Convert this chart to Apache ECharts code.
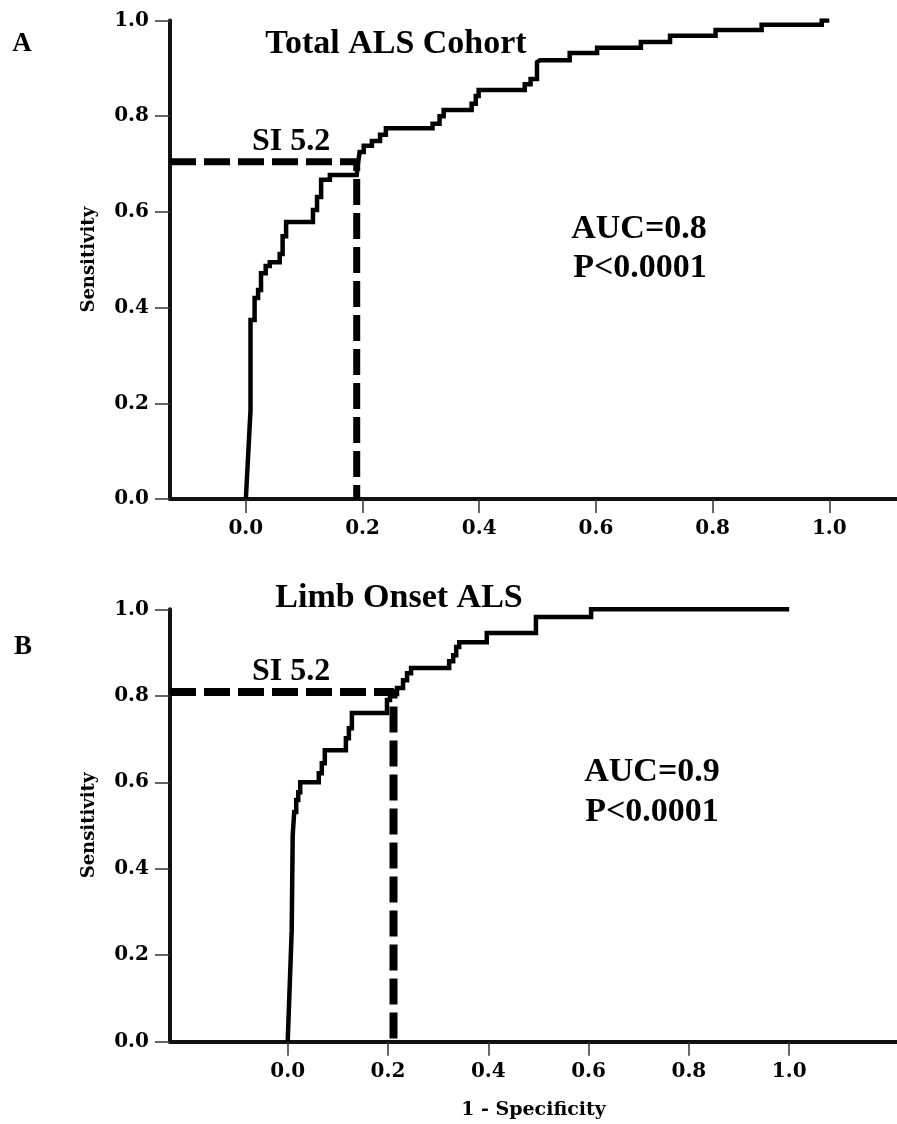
<!DOCTYPE html>
<html>
<head>
<meta charset="utf-8">
<script src="https://cdn.jsdelivr.net/npm/echarts@6/dist/echarts.min.js"></script>
<style>
  html, body { margin: 0; background: #fff; }
  #main { width: 897px; height: 1124px; }
</style>
</head>
<body>
<div id="main"></div>
<script>
// ROC curve points [1 - specificity, sensitivity]
var totalCurve = [[0,0],[0.008,0.186],[0.008,0.374],[0.015,0.374],[0.015,0.420],[0.021,0.420],[0.021,0.437],
  [0.026,0.437],[0.026,0.472],[0.034,0.472],[0.034,0.487],[0.041,0.487],[0.041,0.495],[0.058,0.495],
  [0.058,0.512],[0.063,0.512],[0.063,0.549],[0.069,0.549],[0.069,0.579],[0.115,0.579],[0.115,0.604],
  [0.122,0.604],[0.122,0.631],[0.129,0.631],[0.129,0.667],[0.144,0.667],[0.144,0.677],[0.190,0.677],
  [0.192,0.700],[0.195,0.725],[0.202,0.725],[0.202,0.738],[0.216,0.738],[0.216,0.748],[0.230,0.748],
  [0.230,0.761],[0.240,0.761],[0.240,0.775],[0.320,0.775],[0.320,0.784],[0.332,0.784],[0.332,0.800],
  [0.339,0.800],[0.339,0.813],[0.387,0.813],[0.387,0.826],[0.394,0.826],[0.394,0.842],[0.399,0.842],
  [0.399,0.855],[0.478,0.855],[0.478,0.867],[0.488,0.867],[0.488,0.878],[0.499,0.878],[0.499,0.913],
  [0.504,0.917],[0.555,0.917],[0.555,0.932],[0.602,0.932],[0.602,0.943],[0.677,0.943],[0.677,0.955],
  [0.727,0.955],[0.727,0.968],[0.805,0.968],[0.805,0.980],[0.884,0.980],[0.884,0.991],[0.987,0.991],
  [0.987,1.0],[1.0,1.0]];

var limbCurve = [[0,0],[0.008,0.258],[0.010,0.478],[0.013,0.478],[0.013,0.531],[0.017,0.531],[0.017,0.559],
  [0.021,0.559],[0.021,0.577],[0.025,0.577],[0.025,0.600],[0.062,0.600],[0.062,0.621],[0.068,0.621],
  [0.068,0.644],[0.074,0.644],[0.074,0.674],[0.116,0.674],[0.116,0.702],[0.122,0.702],[0.122,0.725],
  [0.128,0.725],[0.128,0.760],[0.198,0.760],[0.198,0.790],[0.204,0.790],[0.204,0.804],[0.218,0.804],
  [0.218,0.818],[0.230,0.818],[0.230,0.836],[0.238,0.836],[0.238,0.852],[0.246,0.852],[0.246,0.864],
  [0.322,0.864],[0.322,0.880],[0.330,0.880],[0.330,0.894],[0.336,0.894],[0.336,0.913],[0.342,0.913],
  [0.342,0.924],[0.397,0.924],[0.397,0.945],[0.495,0.945],[0.495,0.982],[0.605,0.982],[0.605,1.0],
  [1.0,1.0]];

// cut-off point (SI 5.2) for each panel: [1 - specificity, sensitivity]
var totalCut = [0.19, 0.705];
var limbCut = [0.211, 0.809];

var xTicks = [0, 0.2, 0.4, 0.6, 0.8, 1.0];
var panelTitles = ['Total ALS Cohort', 'Limb Onset ALS'];
var panelLetters = ['A', 'B'];
var aucText = ['AUC=0.8', 'AUC=0.9'];
var pText = ['P<0.0001', 'P<0.0001'];
var cutLabel = 'SI 5.2';

// axis ranges (x axis starts left of 0 like the original SPSS plot)
var xRangeA = [-0.13, 1.116];
var xRangeB = [-0.2347, 1.215];

var tickFont = 'DejaVu Serif';
var textFont = '"Liberation Serif", "Times New Roman", serif';

function fmt(v) { return Number(v).toFixed(1); }

function makeX(grid, range, name) {
  return {
    type: 'value', gridIndex: grid, min: range[0], max: range[1],
    name: name, nameLocation: 'middle', nameGap: 59,
    nameTextStyle: { fontFamily: tickFont, fontWeight: 'bold', fontSize: 19, color: '#000' },
    axisLine: { onZero: false, lineStyle: { color: '#111', width: 4 } },
    axisTick: { customValues: xTicks, length: 14, lineStyle: { color: '#333', width: 1.5 } },
    axisLabel: { customValues: xTicks, formatter: fmt, margin: 20,
      fontFamily: tickFont, fontWeight: 'bold', fontSize: 20, color: '#000' },
    splitLine: { show: false }
  };
}

function makeY(grid) {
  return {
    type: 'value', gridIndex: grid, min: 0, max: 1, interval: 0.2,
    name: 'Sensitivity', nameLocation: 'middle', nameGap: 72,
    nameTextStyle: { fontFamily: tickFont, fontWeight: 'bold', fontSize: 18, color: '#000' },
    axisLine: { onZero: false, lineStyle: { color: '#111', width: 4 } },
    axisTick: { length: 15, lineStyle: { color: '#333', width: 1.5 } },
    axisLabel: { formatter: fmt, margin: 21,
      fontFamily: tickFont, fontWeight: 'bold', fontSize: 20, color: '#000' },
    splitLine: { show: false }
  };
}

function curveSeries(idx, data) {
  return {
    type: 'line', xAxisIndex: idx, yAxisIndex: idx, data: data,
    showSymbol: false, symbol: 'none', z: 3,
    lineStyle: { color: '#000', width: 4.5, join: 'miter' }
  };
}

function cutSeries(idx, cut, xMin, w) {
  return {
    type: 'line', xAxisIndex: idx, yAxisIndex: idx,
    data: [[xMin, cut[1]], [cut[0], cut[1]], [cut[0], 0]],
    showSymbol: false, symbol: 'none', z: 2,
    lineStyle: { color: '#000', width: w, type: [26, 8] }
  };
}

function txt(x, y, text, size) {
  return { type: 'text', x: x, y: y, z: 10,
    style: { text: text, fill: '#000', font: 'bold ' + size + 'px ' + textFont,
      textAlign: 'center', textVerticalAlign: 'middle' } };
}

var chart = echarts.init(document.getElementById('main'), null, { renderer: 'canvas' });

var option = {
  backgroundColor: '#fff',
  animation: false,
  grid: [
    { left: 170, top: 20.5, width: 727, height: 478.5 },
    { left: 170, top: 609.3, width: 727, height: 432.4 }
  ],
  xAxis: [makeX(0, xRangeA, ''), makeX(1, xRangeB, '1 - Specificity')],
  yAxis: [makeY(0), makeY(1)],
  series: [
    cutSeries(0, totalCut, xRangeA[0], 7),
    curveSeries(0, totalCurve),
    cutSeries(1, limbCut, xRangeB[0], 8),
    curveSeries(1, limbCurve)
  ],
  graphic: [
    txt(22, 44, panelLetters[0], 27),
    txt(396, 44, panelTitles[0], 34),
    txt(291, 142, cutLabel, 32),
    txt(639, 229, aucText[0], 34),
    txt(640, 268, pText[0], 34),
    txt(23, 647, panelLetters[1], 27),
    txt(399, 598, panelTitles[1], 34),
    txt(291, 672, cutLabel, 32),
    txt(652, 772, aucText[1], 34),
    txt(652, 812, pText[1], 34)
  ]
};

chart.setOption(option);
</script>
</body>
</html>
